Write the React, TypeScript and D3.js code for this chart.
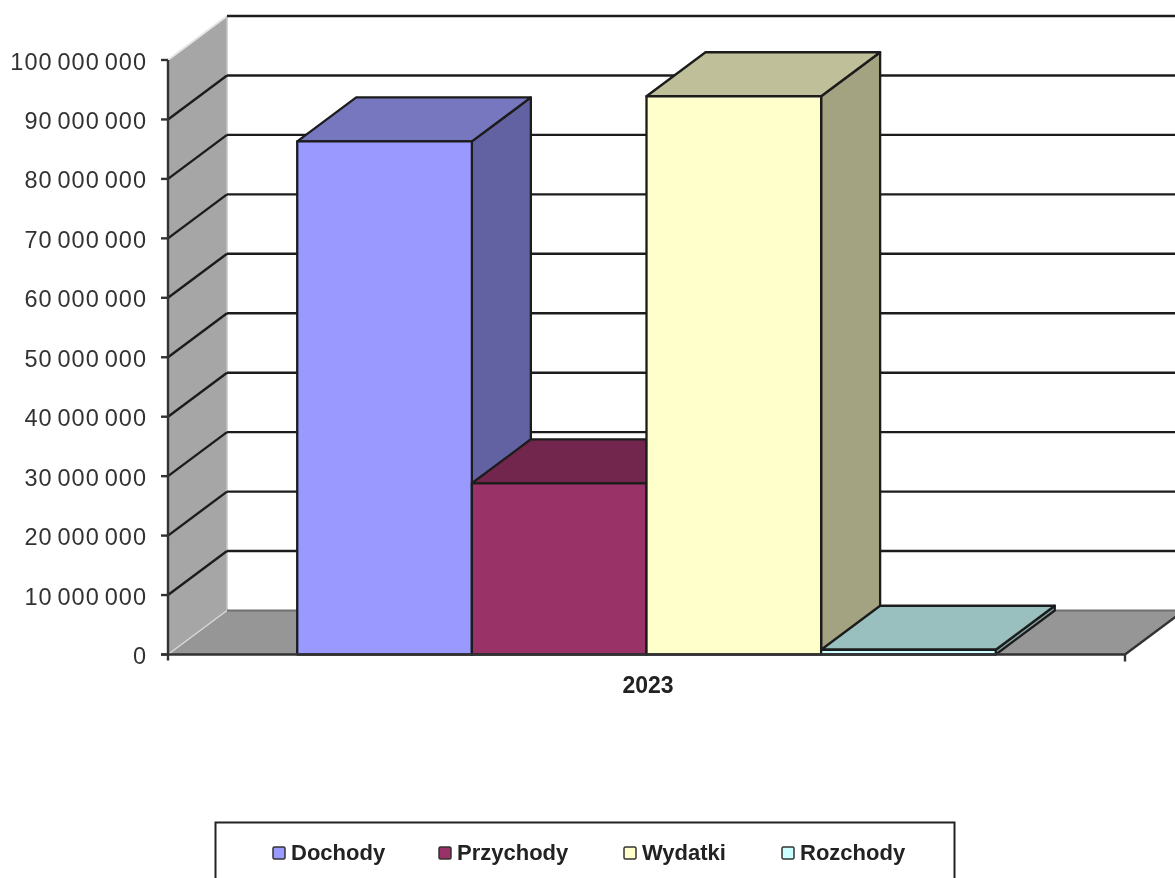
import React from 'react';
import * as d3 from 'd3';

const seriesNames = ['Dochody', 'Przychody', 'Wydatki', 'Rozchody'];
const seriesValues = [86300000, 28800000, 93900000, 800000];
const frontColors = ['#9999ff', '#993366', '#ffffcc', '#ccffff'];
const topColors = ['#7777c0', '#73264d', '#bfbf99', '#99bfbf'];
const sideColors = ['#6262a3', '#622141', '#a3a382', '#82a3a3'];
const yearLabel = '2023';
const yTicks = [0, 10000000, 20000000, 30000000, 40000000, 50000000, 60000000, 70000000, 80000000, 90000000, 100000000];
const legendPositions = [273, 439, 624, 782];

const width = 1175;
const height = 878;
const depthX = 59;
const depthY = 44;
const lineColor = '#1c1c1c';
const font = '"Liberation Sans", Arial, sans-serif';

const yScale = d3.scaleLinear().domain([0, 100000000]).range([654.5, 60]);
const xScale = d3.scaleBand().domain(seriesNames).range([168, 1125]).paddingInner(0).paddingOuter(0.74);
const axisLeft = xScale.range()[0];
const axisRight = xScale.range()[1];

const spaced = d3.formatLocale({ decimal: ',', thousands: ' ', grouping: [3], currency: ['', ''] }).format(',d');
const poly = d3.line<number[]>();

const App: React.FC = () => {
    const y0 = yScale(0);
    const yTop = yScale(100000000);

    return (
        <svg width={width} height={height} style={{ position: 'absolute', left: 0, top: 0, background: '#fff' }}>
            <defs>
                {/* the reference is a slightly soft upscaled bitmap */}
                <filter id="soft" x="0" y="0" width="100%" height="100%" filterUnits="userSpaceOnUse">
                    <feGaussianBlur stdDeviation="0.45" />
                </filter>
            </defs>
            <g filter="url(#soft)">
                <rect width={width} height={height} fill="#fff" />
                {/* left wall and floor */}
                <path
                    d={poly([[axisLeft, y0], [axisLeft, yTop], [axisLeft + depthX, yTop - depthY], [axisLeft + depthX, y0 - depthY]]) + 'Z'}
                    fill="#a6a6a6"
                />
                <path
                    d={poly([[axisLeft, y0], [axisLeft + depthX, y0 - depthY], [axisRight + depthX, y0 - depthY], [axisRight, y0]]) + 'Z'}
                    fill="#969696"
                />
                <line x1={axisLeft} y1={yTop} x2={axisLeft + depthX} y2={yTop - depthY} stroke="#e4e4e4" strokeWidth={2} />
                <line x1={axisLeft} y1={y0} x2={axisLeft + depthX} y2={y0 - depthY} stroke="#d8d8d8" strokeWidth={1.5} />
                <line x1={axisLeft + depthX} y1={yTop - depthY} x2={axisLeft + depthX} y2={y0 - depthY} stroke="#c4c4c4" strokeWidth={1.5} />

                {/* grid lines */}
                {yTicks.map((t) => (
                    <g key={t}>
                        {t > 0 && t < 100000000 && (
                            <line x1={axisLeft} y1={yScale(t)} x2={axisLeft + depthX} y2={yScale(t) - depthY} stroke={lineColor} strokeWidth={2.4} />
                        )}
                        {t > 0 && (
                            <line x1={axisLeft + depthX} y1={yScale(t) - depthY} x2={width} y2={yScale(t) - depthY} stroke={lineColor} strokeWidth={2.4} />
                        )}
                    </g>
                ))}
                <line x1={axisLeft + depthX} y1={y0 - depthY} x2={width} y2={y0 - depthY} stroke="#707070" strokeWidth={2} />

                {/* bars */}
                {seriesNames.map((name, i) => {
                    const x = xScale(name) as number;
                    const w = xScale.bandwidth();
                    const y = yScale(seriesValues[i]);
                    const side = poly([[x + w, y], [x + w + depthX, y - depthY], [x + w + depthX, y0 - depthY], [x + w, y0]]) + 'Z';
                    const top = poly([[x, y], [x + depthX, y - depthY], [x + w + depthX, y - depthY], [x + w, y]]) + 'Z';
                    return (
                        <g key={name} stroke={lineColor} strokeWidth={2.3} strokeLinejoin="round">
                            <path d={side} fill={sideColors[i]} />
                            <path d={top} fill={topColors[i]} />
                            <rect x={x} y={y} width={w} height={y0 - y} fill={frontColors[i]} />
                        </g>
                    );
                })}

                {/* axes */}
                <g stroke="#333" strokeWidth={2.4}>
                    <line x1={axisLeft} y1={yTop} x2={axisLeft} y2={y0 + 6} />
                    <line x1={axisLeft - 7} y1={y0} x2={axisRight} y2={y0} />
                    <line x1={axisRight} y1={y0} x2={axisRight + depthX} y2={y0 - depthY} />
                    <line x1={axisRight} y1={y0} x2={axisRight} y2={y0 + 7} />
                    {yTicks.map((t) => (
                        <line key={t} x1={axisLeft - 7} y1={yScale(t)} x2={axisLeft} y2={yScale(t)} />
                    ))}
                </g>
                {yTicks.map((t) => (
                    <text
                        key={t}
                        x={147}
                        y={yScale(t)}
                        dy={9.5}
                        textAnchor="end"
                        fontFamily={font}
                        fontSize={23.5}
                        letterSpacing={1}
                        wordSpacing={-2.5}
                        fill="#333"
                    >
                        {spaced(t)}
                    </text>
                ))}
                <text x={648} y={693} textAnchor="middle" fontFamily={font} fontSize={23} fontWeight="bold" fill="#222">
                    {yearLabel}
                </text>

                {/* legend */}
                <rect x={215.5} y={822.5} width={739} height={80} fill="#fff" stroke="#222" strokeWidth={2} />
                {seriesNames.map((name, i) => (
                    <g key={name}>
                        <rect x={legendPositions[i]} y={847} width={12} height={12} rx={1.5} fill={frontColors[i]} stroke="#333" strokeWidth={1.5} />
                        <text
                            x={legendPositions[i] + 18}
                            y={860}
                            fontFamily={font}
                            fontSize={22}
                            fontWeight="bold"
                            fill="#222"
                        >
                            {name}
                        </text>
                    </g>
                ))}
            </g>
        </svg>
    );
};

export default App;
